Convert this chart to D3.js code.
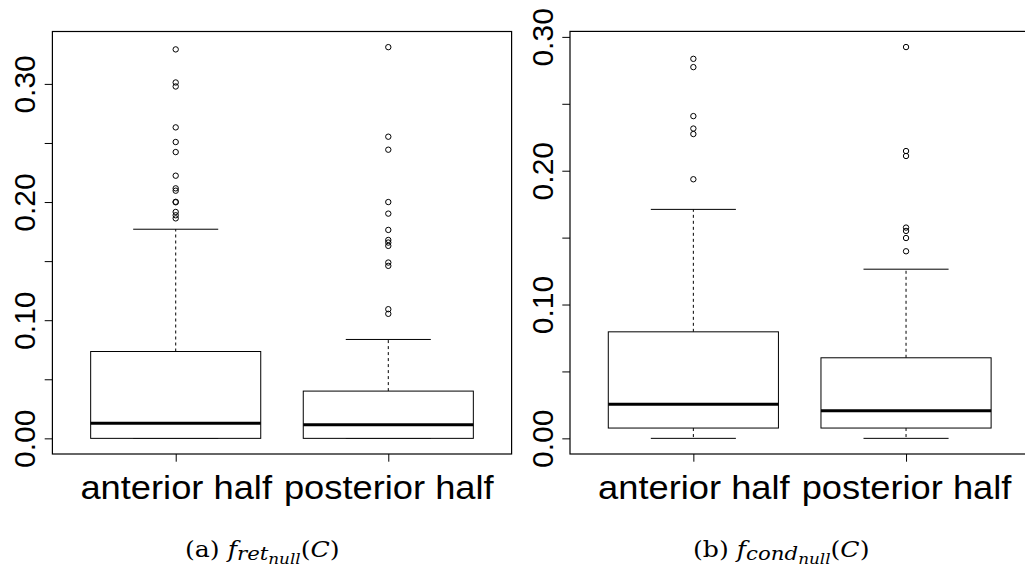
<!DOCTYPE html>
<html>
<head>
<meta charset="utf-8">
<script src="https://cdn.jsdelivr.net/npm/d3@7"></script>
<style>
  body { margin: 0; background: #fff; }
  svg { display: block; }
</style>
</head>
<body>
<div id="chart"></div>
<script>
// group names and axis ticks shared by both panels
const groups = ["anterior half", "posterior half"];
const yTicks = [0, 0.05, 0.10, 0.15, 0.20, 0.25, 0.30];
const yTickLabels = ["0.00", "", "0.10", "", "0.20", "", "0.30"];

// (a) f_ret_null(C): box stats per group
const retLower = [0, 0];
const retQ1 = [0, 0];
const retMedian = [0.0127, 0.0116];
const retQ3 = [0.0735, 0.0400];
const retUpper = [0.177, 0.0837];
const retOutAnterior = [0.3292, 0.3012, 0.2978, 0.2632, 0.2508, 0.2423, 0.2223, 0.2116, 0.2096, 0.2002, 0.1998, 0.1916, 0.1888, 0.1862];
const retOutPosterior = [0.3311, 0.2553, 0.2443, 0.2000, 0.1902, 0.1764, 0.1679, 0.1657, 0.1629, 0.1488, 0.1460, 0.1093, 0.1054];

// (b) f_cond_null(C)
const condLower = [0, 0];
const condQ1 = [0.0077, 0.0077];
const condMedian = [0.0254, 0.0206];
const condQ3 = [0.0796, 0.0602];
const condUpper = [0.1711, 0.1264];
const condOutAnterior = [0.2836, 0.2774, 0.2408, 0.2315, 0.2274, 0.1936];
const condOutPosterior = [0.2924, 0.2147, 0.2110, 0.1575, 0.1550, 0.1497, 0.1398];

let svg = d3.select("#chart").append("svg")
    .attr("width", 1025)
    .attr("height", 572);

function buildBoxes(lower, q1, med, q3, upper, outs) {
  return groups.map(function(name, i) {
    return { name: name, pos: i + 1, lower: lower[i], q1: q1[i], median: med[i], q3: q3[i], upper: upper[i], outliers: outs[i] };
  });
}

function drawPanel(boxes, left, right, top, bottom) {
  let g = svg.append("g");

  // y range padded 4% like base graphics
  let all = [];
  boxes.forEach(function(b) { all = all.concat([b.lower, b.upper], b.outliers); });
  let lo = d3.min(all), hi = d3.max(all), pad = (hi - lo) * 0.04;

  let y = d3.scaleLinear().domain([lo - pad, hi + pad]).range([bottom, top]);
  let x = d3.scaleLinear().domain([0.42, 2.58]).range([left, right]);
  let bw = x(1.4) - x(1.0);

  boxes.forEach(function(b) {
    let cx = x(b.pos);
    // dashed whiskers
    [[b.q3, b.upper], [b.q1, b.lower]].forEach(function(w) {
      g.append("line")
        .attr("x1", cx).attr("x2", cx)
        .attr("y1", y(w[0])).attr("y2", y(w[1]))
        .attr("stroke", "#000").attr("stroke-width", 1)
        .attr("stroke-dasharray", "3,3");
    });
    // whisker caps
    [b.upper, b.lower].forEach(function(v) {
      g.append("line")
        .attr("x1", cx - bw / 2).attr("x2", cx + bw / 2)
        .attr("y1", y(v)).attr("y2", y(v))
        .attr("stroke", "#000").attr("stroke-width", 1);
    });
    g.append("rect")
      .attr("x", cx - bw).attr("width", bw * 2)
      .attr("y", y(b.q3)).attr("height", y(b.q1) - y(b.q3))
      .attr("fill", "#fff").attr("stroke", "#000").attr("stroke-width", 1);
    g.append("line")
      .attr("x1", cx - bw).attr("x2", cx + bw)
      .attr("y1", y(b.median)).attr("y2", y(b.median))
      .attr("stroke", "#000").attr("stroke-width", 3);
    g.selectAll(null)
      .data(b.outliers)
      .enter().append("circle")
        .attr("cx", cx)
        .attr("cy", function(d) { return y(d); })
        .attr("r", 2.7)
        .attr("fill", "none").attr("stroke", "#000").attr("stroke-width", 1);
  });

  // frame
  g.append("rect")
    .attr("x", left).attr("y", top)
    .attr("width", right - left).attr("height", bottom - top)
    .attr("fill", "none").attr("stroke", "#000").attr("stroke-width", 1.2);

  let yAxis = g.append("g")
    .attr("transform", "translate(" + left + ",0)")
    .call(d3.axisLeft(y).tickValues(yTicks).tickSize(7.7)
      .tickFormat(function(d, i) { return yTickLabels[i]; }));
  yAxis.select(".domain").remove();
  yAxis.selectAll("line").attr("stroke", "#000");
  yAxis.selectAll("text")
    .attr("x", 0).attr("y", 0).attr("dy", 0)
    .attr("transform", "translate(-17,0) rotate(-90)")
    .attr("text-anchor", "middle")
    .attr("fill", "#000")
    .style("font-family", "'Liberation Sans', Arial, sans-serif")
    .style("font-size", "30px");

  let xAxis = g.append("g")
    .attr("transform", "translate(0," + bottom + ")")
    .call(d3.axisBottom(x).tickValues([1, 2]).tickSize(7.7)
      .tickFormat(function(d) { return groups[d - 1]; }));
  xAxis.select(".domain").remove();
  xAxis.selectAll("line").attr("stroke", "#000");
  xAxis.selectAll("text")
    .attr("y", 0).attr("dy", 0)
    .attr("transform", "translate(0,45) scale(1.1,1)")
    .attr("fill", "#000")
    .style("font-family", "'Liberation Sans', Arial, sans-serif")
    .style("font-size", "33px");
}

// subfigure caption: (x) f_{sub_{null}}(C)
function caption(x, y, label, sub, subsub) {
  let t = svg.append("text")
    .attr("transform", "translate(" + x + "," + y + ") scale(1.12,1)")
    .attr("fill", "#000")
    .style("font-family", "'DejaVu Serif', serif")
    .style("font-size", "22.5px");
  t.append("tspan").text("(" + label + ") ");
  t.append("tspan").style("font-style", "italic").text("f");
  t.append("tspan").style("font-style", "italic").style("font-size", "19px").attr("dy", 3).text(sub);
  t.append("tspan").style("font-style", "italic").style("font-size", "15px").attr("dy", 4).text(subsub);
  t.append("tspan").attr("dy", -7).text("(");
  t.append("tspan").style("font-style", "italic").text("C");
  t.append("tspan").text(")");
}

drawPanel(buildBoxes(retLower, retQ1, retMedian, retQ3, retUpper, [retOutAnterior, retOutPosterior]), 52.4, 511.6, 31.5, 454);
drawPanel(buildBoxes(condLower, condQ1, condMedian, condQ3, condUpper, [condOutAnterior, condOutPosterior]), 570, 1029.4, 31.4, 454);

caption(185, 557, "a", "ret", "null");
caption(693, 557, "b", "cond", "null");
</script>
</body>
</html>
